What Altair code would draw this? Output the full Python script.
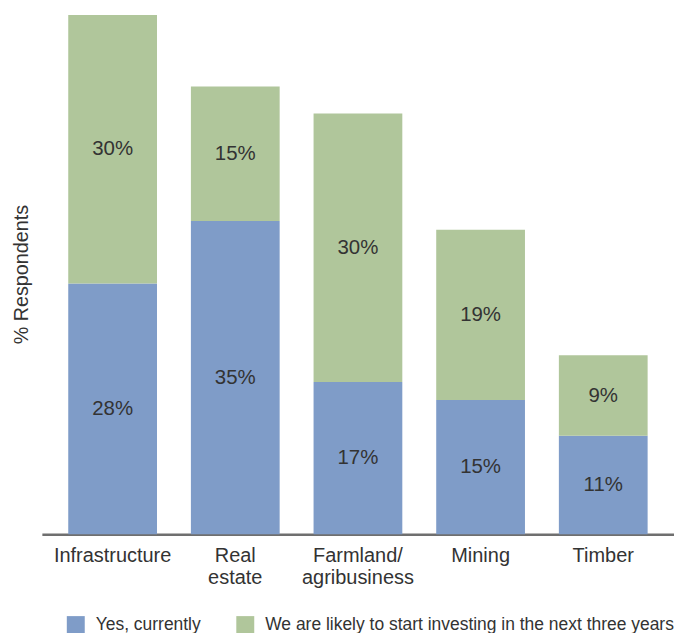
import altair as alt
import pandas as pd

categories = ["Infrastructure", "Real|estate", "Farmland/|agribusiness", "Mining", "Timber"]
series = ["Yes, currently", "We are likely to start investing in the next three years"]
currently = [28, 35, 17, 15, 11]
likely = [30, 15, 30, 19, 9]
colors = ["#7f9cc8", "#b0c69b"]

rows = []
for i, c in enumerate(categories):
    rows.append({"cat": c, "series": series[0], "value": currently[i], "ord": 0})
    rows.append({"cat": c, "series": series[1], "value": likely[i], "ord": 1})
df = pd.DataFrame(rows)

FONT = "Liberation Sans"

base = alt.Chart(df).transform_stack(
    stack="value", groupby=["cat"], as_=["y0", "y1"],
    sort=[alt.SortField("ord", order="ascending")]
).transform_calculate(
    mid="(datum.y0 + datum.y1) / 2",
    lab="datum.value + '%'"
)

x_enc = alt.X("cat:N", sort=categories, title=None,
              scale=alt.Scale(paddingInner=0.2764, paddingOuter=0.215),
              axis=alt.Axis(labelAngle=0, ticks=False, domainColor="#6f6f6f", domainWidth=2.5,
                            labelExpr="split(datum.label, '|')", labelFont=FONT,
                            labelFontSize=20, labelColor="#333333", labelPadding=11,
                            labelBaseline="top", labelLineHeight=22, labelLimit=200))
y_scale = alt.Scale(domain=[0, 58], nice=False, zero=True)

bars = base.mark_bar().encode(
    x=x_enc,
    y=alt.Y("y0:Q", scale=y_scale, title="% Respondents",
            axis=alt.Axis(labels=False, ticks=False, domain=False, grid=False,
                          titleFont=FONT, titleFontSize=19.8, titleColor="#333333",
                          titleFontWeight="normal", titleAngle=-90, titleX=-20, titleY=260,
                          titleAlign="center", titleBaseline="middle")),
    y2="y1:Q",
    color=alt.Color("series:N", scale=alt.Scale(domain=series, range=colors),
                    legend=alt.Legend(title=None, orient="none", legendX=25, legendY=603,
                                      direction="horizontal", symbolType="square",
                                      symbolSize=324, symbolStrokeWidth=0,
                                      labelFont=FONT, labelFontSize=17.5, labelColor="#333333",
                                      columnPadding=35, labelOffset=11, labelLimit=500)),
)

text = base.mark_text(font=FONT, fontSize=20.5, color="#333333").encode(
    x=alt.X("cat:N", sort=categories),
    y=alt.Y("mid:Q", scale=y_scale),
    text="lab:N",
)

chart = (bars + text).properties(
    width=634, height=521,
    autosize=alt.AutoSizeParams(type="none"),
    padding={"left": 42, "top": 14, "right": 0, "bottom": 98},
).configure_view(stroke=None).configure_axis(grid=False)

chart.save("out.html", embed_options={"renderer": "svg", "actions": False})
